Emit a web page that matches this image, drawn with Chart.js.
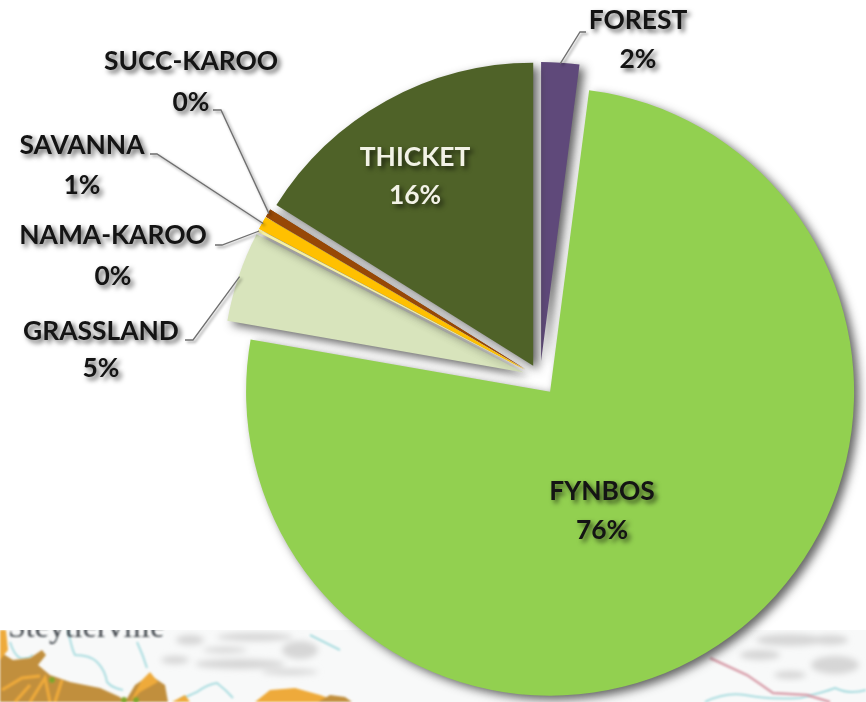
<!DOCTYPE html>
<html>
<head>
<meta charset="utf-8">
<title>Vegetation biomes</title>
<script src="https://cdn.jsdelivr.net/npm/chart.js@4/dist/chart.umd.min.js"></script>
<style>
    html, body { margin: 0; padding: 0; background: #fff; }
    #wrap { position: relative; width: 866px; height: 702px; overflow: hidden; }
    #map { position: absolute; left: 0; top: 630px; }
    #chart-area { position: absolute; left: 0; top: 0; }
</style>
</head>
<body>
<div id="wrap">
    <!-- scrap of the map that sits behind the pie -->
    <svg id="map" width="866" height="72" viewBox="0 630 866 72">
        <defs>
            <filter id="soft"><feGaussianBlur stdDeviation="0.8"/></filter>
            <filter id="softer"><feGaussianBlur stdDeviation="3"/></filter>
        </defs>
        <rect x="0" y="630" width="866" height="72" fill="#f8f9f9"/>
        <g filter="url(#softer)" fill="#d6d6d6">
            <ellipse cx="240" cy="664" rx="45" ry="5"/>
            <ellipse cx="255" cy="637" rx="38" ry="4"/>
            <ellipse cx="190" cy="640" rx="14" ry="5"/>
            <ellipse cx="175" cy="660" rx="14" ry="4"/>
            <ellipse cx="300" cy="650" rx="18" ry="9"/>
            <ellipse cx="290" cy="672" rx="28" ry="3"/>
            <ellipse cx="225" cy="650" rx="22" ry="3"/>
            <ellipse cx="790" cy="640" rx="34" ry="6"/>
            <ellipse cx="760" cy="655" rx="20" ry="5"/>
            <ellipse cx="835" cy="665" rx="24" ry="9"/>
            <ellipse cx="830" cy="640" rx="18" ry="5"/>
            <ellipse cx="790" cy="675" rx="16" ry="4"/>
        </g>
        <g filter="url(#soft)" fill="none" stroke="#aadde0" stroke-width="2">
            <path d="M10 642 Q14 655 20 658 Q28 660 33 655"/>
            <path d="M68 630 Q72 650 75 655 Q90 655 97 662 Q105 670 107 682 Q112 688 123 690"/>
            <path d="M137 642 Q143 655 147 668"/>
            <path d="M180 700 Q190 695 197 692 Q208 684 217 683 Q226 690 233 698"/>
            <path d="M310 635 L340 650"/>
            <path d="M705 702 Q725 692 745 695 Q770 700 800 698 Q825 692 835 688 Q850 695 866 690"/>
        </g>
        <g filter="url(#soft)">
            <path d="M0 652 L13 660 L30 658 L42 650 L46 655 L38 665 L50 675 L70 682 L100 688 L120 697 L124 702 L0 702 Z" fill="#c18f3c"/>
            <path d="M0 630 L6 630 L8 650 L0 660 Z" fill="#eeaa3a"/>
            <path d="M125 702 L135 685 L150 675 L165 685 L168 702 Z" fill="#c18f3c"/>
            <path d="M130 702 L142 680 L150 672 L158 682 L140 692 Z" fill="#eeaa3a"/>
            <path d="M255 702 L270 690 L295 688 L320 695 L340 702 Z" fill="#eeaa3a"/>
            <path d="M318 702 L330 695 L345 697 L352 702 Z" fill="#c18f3c"/>
            <path d="M172 702 L185 695 L190 702 Z" fill="#eeaa3a"/>
            <path d="M2 690 L22 678 L40 676 M30 702 L45 678 L50 702 M55 702 L62 680 M15 702 L30 685" fill="none" stroke="#eeaa3a" stroke-width="3"/>
            <circle cx="52" cy="680" r="3" fill="#7fa52c"/>
            <circle cx="124" cy="700" r="3" fill="#7fa52c"/>
            <circle cx="136" cy="700" r="3" fill="#7fa52c"/>
        </g>
        <path filter="url(#soft)" d="M710 658 L747 675 L773 693 L807 695 L830 702" fill="none" stroke="#d9a0ac" stroke-width="2.5"/>
        <text x="8" y="637" font-family="Liberation Serif" font-size="32" fill="#3c4348" filter="url(#soft)">Steytlerville</text>
    </svg>
    <canvas id="chart-area" width="866" height="702"></canvas>
</div>
<script>
var categories = ['FOREST', 'FYNBOS', 'GRASSLAND', 'NAMA-KAROO', 'SAVANNA', 'SUCC-KAROO', 'THICKET'];
var shares = [2.05, 75.7, 4.85, 0.15, 0.7, 0.45, 16.1];
var sliceColors = ['#5F497A', '#92D050', '#D8E4BC', '#F4EFA4', '#FFC000', '#974806', '#4F6228'];
// how far each slice is pulled out, and how long it is
var explode = [17, 17, 17, 17, 17, 17, 14];
var sliceRadius = [299, 304, 301, 301, 301, 301, 303];

// label centres
var labelX = [638, 602, 101, 113, 82, 191, 415];
var labelY = [[20, 59], [491, 530], [331, 368], [235, 276], [145, 185], [61, 102], [157, 195]];
var labelColors = ['#141414', '#141414', '#141414', '#141414', '#141414', '#141414', '#f2f2e6'];
// leader line: start, elbow. The far end comes from the slice itself
var leaders = [
    [[586, 32], [580, 32]],
    null,
    [[185, 340], [193, 340]],
    [[215, 245], [222, 245]],
    [[150, 154], [157, 154]],
    [[213, 110], [221, 110]],
    null
];

// the built-in offset option narrows thin slices, so pull them out here instead.
var explodeSlices = {
    id: 'explodeSlices',
    afterDatasetsUpdate: function (chart) {
        chart.getDatasetMeta(0).data.forEach(function (arc, i) {
            var mid = (arc.startAngle + arc.endAngle) / 2;
            arc.x += Math.cos(mid) * explode[i];
            arc.y += Math.sin(mid) * explode[i];
            arc.outerRadius = sliceRadius[i];
        });
    }
};

// arcs have no shadow option, so set it on the context around the draw
var sliceShadow = {
    id: 'sliceShadow',
    beforeDatasetsDraw: function (chart) {
        var ctx = chart.ctx;
        ctx.save();
        ctx.shadowColor = 'rgba(50,50,50,0.75)';
        ctx.shadowBlur = 10;
        ctx.shadowOffsetX = 5;
        ctx.shadowOffsetY = 4;
    },
    afterDatasetsDraw: function (chart) {
        var ctx = chart.ctx;
        ctx.restore();
        // thin slices again, clean, so the neighbours shadows dont muddy them
        chart.getDatasetMeta(0).data.forEach(function (arc, i) {
            if (shares[i] < 1) arc.draw(ctx);
        });
    }
};

var pieLabels = {
    id: 'pieLabels',
    afterDraw: function (chart) {
        var ctx = chart.ctx;
        var arcs = chart.getDatasetMeta(0).data;
        ctx.save();

        // leader lines
        leaders.forEach(function (leader, i) {
            if (!leader) return;
            var arc = arcs[i];
            var mid = (arc.startAngle + arc.endAngle) / 2;
            var r = sliceRadius[i] - 1;
            ctx.beginPath();
            ctx.moveTo(leader[0][0], leader[0][1]);
            ctx.lineTo(leader[1][0], leader[1][1]);
            ctx.lineTo(arc.x + Math.cos(mid) * r, arc.y + Math.sin(mid) * r);
            ctx.strokeStyle = '#6f6f6f';
            ctx.lineWidth = 1.3;
            ctx.shadowColor = 'rgba(0,0,0,0.45)';
            ctx.shadowBlur = 3;
            ctx.shadowOffsetX = 2;
            ctx.shadowOffsetY = 2;
            ctx.stroke();
        });

        // category and percent
        ctx.font = '700 26.4px Lato';
        ctx.textAlign = 'center';
        ctx.textBaseline = 'middle';
        ctx.shadowColor = 'rgba(0,0,0,0.65)';
        ctx.shadowBlur = 5;
        ctx.shadowOffsetX = 3;
        ctx.shadowOffsetY = 3;
        categories.forEach(function (name, i) {
            ctx.fillStyle = labelColors[i];
            ctx.fillText(name, labelX[i], labelY[i][0]);
            ctx.fillText(Math.round(shares[i]) + '%', labelX[i], labelY[i][1]);
        });
        ctx.restore();
    }
};

var config = {
    type: 'pie',
    data: {
        labels: categories,
        datasets: [{
            data: shares,
            backgroundColor: sliceColors,
            borderWidth: 0,
            hoverOffset: 0
        }]
    },
    options: {
        responsive: false,
        animation: false,
        events: [],
        layout: { padding: { left: 237, top: 75, right: 23, bottom: 21 } },
        plugins: {
            legend: { display: false },
            tooltip: { enabled: false }
        }
    },
    plugins: [explodeSlices, sliceShadow, pieLabels]
};

var ctx = document.getElementById('chart-area').getContext('2d');
var myPie = new Chart(ctx, config);
</script>
</body>
</html>
